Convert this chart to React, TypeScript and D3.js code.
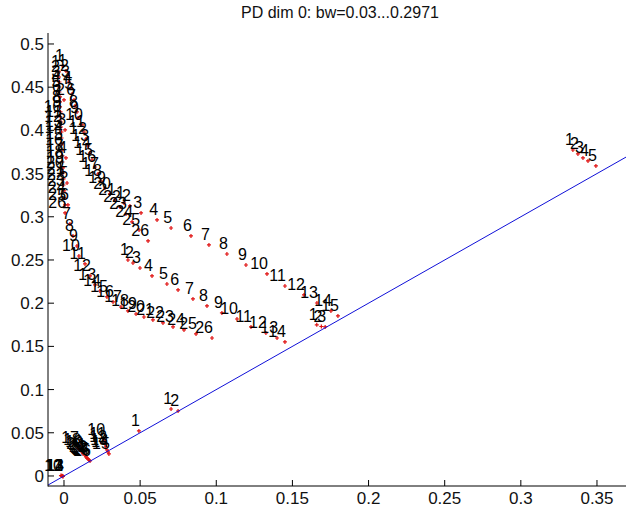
import React from "react";
import * as d3 from "d3";

const W = 626;
const H = 509;
const TITLE = "PD dim 0: bw=0.03...0.2971";
const X_DOMAIN = [-0.0105, 0.373];
const Y_DOMAIN = [-0.0116, 0.5127];
const X_TICKS = [0, 0.05, 0.1, 0.15, 0.2, 0.25, 0.3, 0.35];
const Y_TICKS = [0, 0.05, 0.1, 0.15, 0.2, 0.25, 0.3, 0.35, 0.4, 0.45, 0.5];

// component near the y-axis
const chainA: [number, number][] = [
  [-0.0033, 0.4676], [-0.0033, 0.4618], [-0.003, 0.456], [-0.003, 0.4502], [-0.003, 0.4444],
  [-0.0026, 0.4387], [-0.0026, 0.4329], [-0.0026, 0.4271], [-0.0023, 0.4213], [-0.0023, 0.4155],
  [-0.002, 0.4097], [-0.002, 0.4039], [-0.0016, 0.3981], [-0.0016, 0.3912], [-0.0013, 0.3843],
  [-0.0013, 0.3773], [-0.001, 0.3704], [-0.001, 0.3634], [-0.0007, 0.3565], [-0.0007, 0.3507],
  [-0.0003, 0.3438], [-0.0003, 0.3368], [0.0, 0.3299], [0.0003, 0.3218], [0.0007, 0.3137],
  [0.0007, 0.3044],
];

// steep chain bending into the lower curve
const chainD: [number, number][] = [
  [-0.0007, 0.4745], [0.0, 0.4352], [0.0007, 0.4005], [0.0013, 0.3681], [0.002, 0.3391],
  [0.0026, 0.3137], [0.0039, 0.2917], [0.0059, 0.2778], [0.0085, 0.2662], [0.0098, 0.2546],
  [0.0138, 0.2454], [0.0171, 0.2315], [0.0204, 0.2211], [0.0236, 0.2141], [0.0282, 0.2072],
  [0.0322, 0.2014], [0.0374, 0.1956], [0.042, 0.191], [0.0473, 0.1875], [0.0525, 0.184],
  [0.0584, 0.1806], [0.065, 0.1771], [0.0716, 0.1725], [0.0788, 0.169], [0.0867, 0.1644],
  [0.0972, 0.1597],
];

// diagonal chain in the upper-left cluster
const chainC: [number, number][] = [
  [0.0013, 0.4687], [0.0026, 0.463], [0.0033, 0.456], [0.0046, 0.4491], [0.0053, 0.4421],
  [0.0066, 0.4352], [0.0072, 0.4282], [0.0085, 0.4213], [0.0092, 0.4144], [0.0118, 0.4063],
  [0.0131, 0.3981], [0.0144, 0.39], [0.0158, 0.3819], [0.0171, 0.3738], [0.0184, 0.3657],
  [0.0204, 0.3576], [0.0223, 0.3495], [0.0243, 0.3414], [0.0269, 0.3333], [0.0302, 0.3264],
  [0.0335, 0.3194], [0.0368, 0.3113], [0.0407, 0.3032], [0.0447, 0.294], [0.0493, 0.2847],
  [0.0552, 0.272],
];

// upper long curve (labels 1..15)
const chainU: [number, number][] = [
  [0.0394, 0.316], [0.0433, 0.3125], [0.0506, 0.3044], [0.0611, 0.2963], [0.0703, 0.287],
  [0.0834, 0.2778], [0.0952, 0.2674], [0.107, 0.2569], [0.1195, 0.2442], [0.1333, 0.2338],
  [0.1451, 0.2199], [0.1576, 0.2095], [0.1661, 0.2002], [0.1753, 0.191], [0.1799, 0.1852],
];

// middle curve (labels 1..14)
const chainL: [number, number][] = [
  [0.042, 0.25], [0.0453, 0.2465], [0.0499, 0.2407], [0.0578, 0.2315], [0.0676, 0.2222],
  [0.0749, 0.2153], [0.0847, 0.2049], [0.0939, 0.1968], [0.1037, 0.1887], [0.1136, 0.1817],
  [0.1228, 0.1725], [0.1326, 0.1655], [0.1399, 0.1597], [0.1451, 0.1551],
];

const chainV: [number, number][] = [[0.166, 0.175], [0.169, 0.173], [0.1715, 0.1725]];

const chainR: [number, number][] = [
  [0.3342, 0.3773], [0.3375, 0.3727], [0.3408, 0.3681], [0.3441, 0.3646], [0.3493, 0.3588],
];

const clusterB1: [number, number][] = [
  [0.0092, 0.0324], [0.0105, 0.0301], [0.0118, 0.0278], [0.0125, 0.0255], [0.0138, 0.0243],
  [0.0144, 0.022], [0.0151, 0.0208], [0.0158, 0.0197], [0.0164, 0.0185], [0.0171, 0.0174],
];
const labelsB1 = ["17", "18", "19", "20", "21", "22", "23", "24", "25", "26"];

const clusterB2: [number, number][] = [
  [0.0263, 0.0417], [0.0269, 0.037], [0.0276, 0.0336], [0.0282, 0.0301], [0.0289, 0.0278],
  [0.0295, 0.0255],
];
const labelsB2 = ["10", "11", "12", "13", "14", "15"];

const singleS1: [number, number][] = [[0.0492, 0.0521]];
const pairS2: [number, number][] = [[0.0703, 0.0775], [0.0749, 0.0752]];

const clusterE: [number, number][] = [
  [-0.002, 0.0005], [-0.0013, 0.0002], [-0.0013, 0.0], [-0.0007, -0.0003], [-0.0007, -0.0005],
];
const labelsE = ["10", "11", "12", "13", "14"];

const seq = (n: number) => d3.range(1, n + 1).map(String);

const SERIES: { pts: [number, number][]; labels: string[] }[] = [
  { pts: chainA, labels: seq(chainA.length) },
  { pts: chainD, labels: seq(chainD.length) },
  { pts: chainC, labels: seq(chainC.length) },
  { pts: chainU, labels: seq(chainU.length) },
  { pts: chainL, labels: seq(chainL.length) },
  { pts: chainV, labels: seq(chainV.length) },
  { pts: chainR, labels: seq(chainR.length) },
  { pts: clusterB1, labels: labelsB1 },
  { pts: clusterB2, labels: labelsB2 },
  { pts: singleS1, labels: seq(1) },
  { pts: pairS2, labels: seq(2) },
  { pts: clusterE, labels: labelsE },
];

const FONT = "'Liberation Sans', Arial, Helvetica, sans-serif";

export default function App() {
  const left = 48, top = 33, bottom = 486, right = 632;
  const x = d3.scaleLinear().domain(X_DOMAIN).range([left, right]);
  const y = d3.scaleLinear().domain(Y_DOMAIN).range([bottom, top]);
  const fmt = (v: number) => String(+v.toFixed(2));
  const diagPath =
    d3.line()([
      [x(X_DOMAIN[0]), y(X_DOMAIN[0])],
      [x(0.5), y(0.5)],
    ]) || "";

  return (
    <svg
      width={W}
      height={H}
      style={{ position: "absolute", left: 0, top: 0, background: "#fff" }}
      fontFamily={FONT}
    >
      <defs>
        <clipPath id="axclip">
          <rect x={left} y={top} width={right - left} height={bottom - top} />
        </clipPath>
      </defs>
      <rect x={0} y={0} width={W} height={H} fill="#fff" />
      <g fontSize={17} fill="#111">
        {X_TICKS.map((t) => (
          <text key={`xl${t}`} x={x(t)} y={504} textAnchor="middle">
            {fmt(t)}
          </text>
        ))}
        {Y_TICKS.map((t) => (
          <text key={`yl${t}`} x={left - 4} y={y(t) + 6} textAnchor="end">
            {fmt(t)}
          </text>
        ))}
      </g>
      <g clipPath="url(#axclip)">
        {SERIES.map((s, si) =>
          s.pts.map((p, i) => {
            const px = x(p[0]);
            const py = y(p[1]);
            return (
              <path
                key={`m${si}-${i}`}
                d={`M${px - 2},${py}h4M${px},${py - 2}v4`}
                stroke="#e01010"
                strokeWidth={1.2}
                fill="none"
              />
            );
          })
        )}
        <path d={diagPath} stroke="#1010d8" strokeWidth={1} fill="none" />
      </g>
      <g fontSize={16} fill="#000">
        {SERIES.map((s, si) =>
          s.pts.map((p, i) => (
            <text
              key={`t${si}-${i}`}
              x={x(p[0]) + 1}
              y={y(p[1]) - 5}
              textAnchor="end"
            >
              {s.labels[i]}
            </text>
          ))
        )}
      </g>
      <g stroke="#000" strokeWidth={1} fill="none">
        <line x1={left} y1={top} x2={left} y2={bottom + 0.5} />
        <line x1={left} y1={bottom} x2={right} y2={bottom} />
        {X_TICKS.map((t) => (
          <line key={`xt${t}`} x1={x(t)} x2={x(t)} y1={bottom} y2={bottom - 6} />
        ))}
        {Y_TICKS.map((t) => (
          <line key={`yt${t}`} x1={left} x2={left + 6} y1={y(t)} y2={y(t)} />
        ))}
      </g>
      <text x={(left + right) / 2} y={18} textAnchor="middle" fontSize={16} fill="#111">
        {TITLE}
      </text>
    </svg>
  );
}
